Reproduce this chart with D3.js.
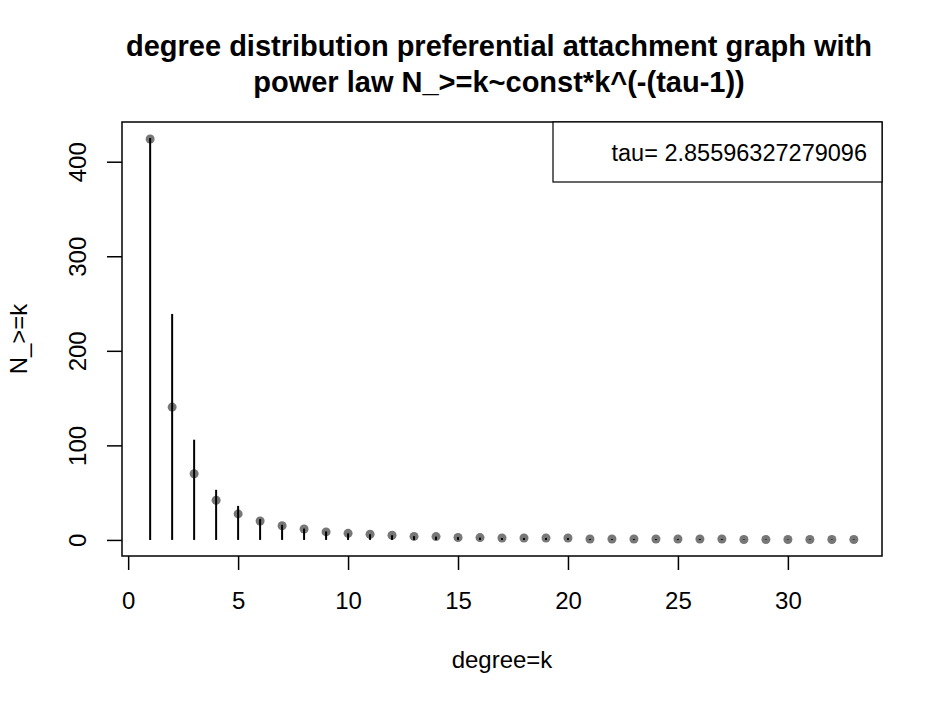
<!DOCTYPE html>
<html lang="en">
<head>
<meta charset="UTF-8">
<title>degree distribution</title>
<script src="https://d3js.org/d3.v7.min.js"></script>
<style>
  body { margin: 0; background: #fff; }
  text { font-family: "Liberation Sans", Arial, Helvetica, sans-serif; fill: #000; }
</style>
</head>
<body>
<div id="chart"></div>
<script>
// degree k
let degrees = d3.range(1, 34)
// N_>=k (grey points)
let countPoints = [424, 140.5, 70, 42, 27.5, 20, 15, 11.5, 8.5, 7, 6, 5, 3.7, 3.5, 2.6, 2.5, 2, 2, 2, 2,
                   1, 1, 1, 1, 1, 1, 1, 0.5, 0.5, 0.5, 0.5, 0.5, 0.5]
// vertical lines (type "h")
let countLines = [425, 239, 106, 53, 36, 22, 16, 12, 9, 7, 6, 5, 4, 3.5, 3, 2.5, 2, 2, 2, 2,
                  1, 1, 1, 1, 1, 1, 1, 0.5, 0.5, 0.5, 0.5, 0.5, 0.5]
let xTicks = [0, 5, 10, 15, 20, 25, 30]
let yTicks = [0, 100, 200, 300, 400]
let titleLines = ["degree distribution preferential attachment graph with",
                  "power law N_>=k~const*k^(-(tau-1))"]
let legendText = "tau= 2.85596327279096"

let width = 944, height = 709
let box = {left: 122, right: 882, top: 122, bottom: 556}

let svg = d3.select("#chart").append("svg")
    .attr("width", width)
    .attr("height", height)

// R style 4% padding around data range
let x = d3.scaleLinear().domain([1 - 1.28, 33 + 1.28]).range([box.left, box.right])
let y = d3.scaleLinear().domain([-17, 442]).range([box.bottom, box.top])

// points first, lines on top
svg.selectAll("circle.pt")
  .data(degrees)
  .enter().append("circle")
    .attr("class", "pt")
    .attr("cx", (d) => x(d))
    .attr("cy", (d, i) => y(countPoints[i]))
    .attr("r", 4.5)
    .attr("fill", "#777")

svg.selectAll("line.h")
  .data(degrees)
  .enter().append("line")
    .attr("class", "h")
    .attr("x1", (d) => x(d))
    .attr("x2", (d) => x(d))
    .attr("y1", y(0))
    .attr("y2", (d, i) => y(countLines[i]))
    .attr("stroke", "#000")
    .attr("stroke-width", 2)

// plot box
svg.append("rect")
  .attr("x", box.left).attr("y", box.top)
  .attr("width", box.right - box.left).attr("height", box.bottom - box.top)
  .attr("fill", "none").attr("stroke", "#000").attr("stroke-width", 1.5)

// x axis
let xAxis = svg.append("g")
  .attr("transform", "translate(0," + box.bottom + ")")
  .call(d3.axisBottom(x).tickValues(xTicks).tickSize(14).tickSizeOuter(0))
xAxis.select(".domain").remove()
xAxis.selectAll("line").attr("stroke-width", 1.5)
xAxis.selectAll("text")
  .attr("y", 53).attr("dy", null)
  .style("font-size", "24px").attr("font-family", null)

// y axis, labels rotated as in R
let yAxis = svg.append("g")
  .attr("transform", "translate(" + box.left + ",0)")
  .call(d3.axisLeft(y).tickValues(yTicks).tickSize(15).tickSizeOuter(0))
yAxis.select(".domain").remove()
yAxis.selectAll("line").attr("stroke-width", 1.5)
yAxis.selectAll("text")
  .attr("x", null).attr("dy", null)
  .attr("transform", "translate(-36,0) rotate(-90)")
  .attr("text-anchor", "middle")
  .style("font-size", "24px").attr("font-family", null)

// title
svg.selectAll("text.title")
  .data(titleLines)
  .enter().append("text")
    .attr("class", "title")
    .attr("x", (box.left + box.right) / 2 - 3)
    .attr("y", (d, i) => 56 + i * 36)
    .attr("text-anchor", "middle")
    .style("font-size", "29px")
    .style("font-weight", "bold")
    .text((d) => d)

// axis titles
svg.append("text")
  .attr("x", (box.left + box.right) / 2).attr("y", 668)
  .attr("text-anchor", "middle")
  .style("font-size", "24px")
  .text("degree=k")

svg.append("text")
  .attr("transform", "translate(27," + (box.top + box.bottom) / 2 + ") rotate(-90)")
  .attr("text-anchor", "middle")
  .style("font-size", "24px")
  .text("N_>=k")

// legend
svg.append("rect")
  .attr("x", 553).attr("y", box.top)
  .attr("width", box.right - 553).attr("height", 60)
  .attr("fill", "#fff").attr("stroke", "#000").attr("stroke-width", 1.2)
svg.append("text")
  .attr("x", 867).attr("y", 161)
  .attr("text-anchor", "end")
  .style("font-size", "23.5px")
  .text(legendText)
</script>
</body>
</html>
